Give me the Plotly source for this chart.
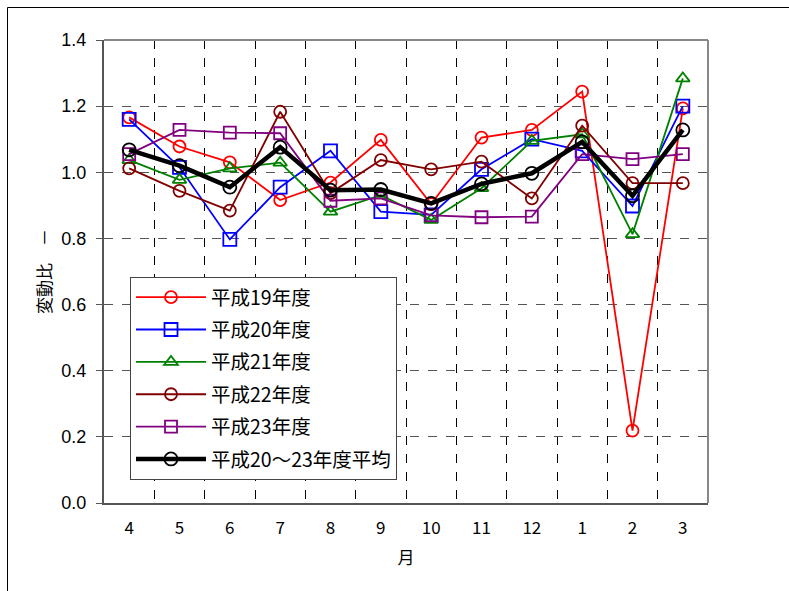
import plotly.graph_objects as go

months = ["4", "5", "6", "7", "8", "9", "10", "11", "12", "1", "2", "3"]

h19 = [1.166, 1.078, 1.030, 0.916, 0.969, 1.098, 0.904, 1.105, 1.128, 1.244, 0.219, 1.193]
h20 = [1.160, 1.015, 0.797, 0.955, 1.065, 0.881, 0.871, 1.009, 1.100, 1.065, 0.898, 1.200]
h21 = [1.037, 0.977, 1.012, 1.029, 0.881, 0.931, 0.856, 0.952, 1.095, 1.115, 0.813, 1.284]
h22 = [1.012, 0.944, 0.884, 1.183, 0.937, 1.037, 1.009, 1.032, 0.921, 1.141, 0.967, 0.967]
h23 = [1.055, 1.128, 1.120, 1.118, 0.914, 0.921, 0.870, 0.864, 0.866, 1.055, 1.040, 1.055]
avg = [1.068, 1.020, 0.955, 1.076, 0.946, 0.948, 0.906, 0.965, 0.997, 1.092, 0.929, 1.128]

series = [
    ("平成19年度", h19, "#FF0000", "circle-open", 1.8, 12),
    ("平成20年度", h20, "#0000FF", "square-open", 1.8, 13),
    ("平成21年度", h21, "#008000", "triangle-up-open", 1.8, 12),
    ("平成22年度", h22, "#800000", "circle-open", 1.8, 12),
    ("平成23年度", h23, "#800080", "square-open", 1.8, 12),
    ("平成20～23年度平均", avg, "#000000", "circle-open", 4.5, 13),
]

JP = "Noto Sans CJK JP"

fig = go.Figure()
for i, (name, vals, color, sym, lw, ms) in enumerate(series):
    fig.add_trace(go.Scatter(
        x=months, y=vals, name=name, mode="lines+markers",
        legendgroup=f"g{i}",
        line=dict(color=color, width=lw),
        marker=dict(symbol=sym, size=ms, color=color, line=dict(width=1.8, color=color)),
    ))

L, R, T, B = 104, 708, 40, 503
W, H = 789, 591

def px_x(p):
    return (p - L) / (R - L)

def px_y(p):
    return (B - p) / (B - T)

fig.update_layout(
    width=W, height=H,
    margin=dict(l=L, r=W - R, t=T, b=H - B),
    paper_bgcolor="white", plot_bgcolor="white",
    font=dict(family=JP, color="black", size=16),
    showlegend=True,
    legend=dict(
        x=px_x(130), y=px_y(277), xanchor="left", yanchor="top",
        bgcolor="white", bordercolor="#444444", borderwidth=1,
        font=dict(family=JP, size=19.5, color="black"),
        tracegroupgap=4, itemwidth=70,
    ),
    xaxis=dict(
        type="category", tickson="boundaries", range=[-0.5, 11.5],
        showgrid=True, gridcolor="black", griddash="dash", gridwidth=1,
        ticks="", showline=True, linecolor="#555555", linewidth=2, mirror=False,
        tickfont=dict(family=JP, size=17, color="black"),
        ticklabelstandoff=9,
        title=dict(text="月", font=dict(family=JP, size=17, color="black"), standoff=14),
        zeroline=False,
    ),
    yaxis=dict(
        range=[0, 1.4], dtick=0.2, tickformat=".1f",
        showgrid=True, gridcolor="#555555", griddash="dash", gridwidth=1,
        ticks="outside", ticklen=6, tickcolor="#555555",
        showline=True, linecolor="#555555", linewidth=2, mirror=False,
        tickfont=dict(family="Liberation Sans", size=18, color="black"),
        ticklabelstandoff=6,
        title=dict(text="変動比　－", font=dict(family=JP, size=17, color="black"), standoff=5),
        zeroline=False,
    ),
)

# top and right frame (lighter gray)
fig.add_shape(type="line", xref="paper", yref="paper", x0=0, x1=1, y0=1, y1=1,
              line=dict(color="#888888", width=2))
fig.add_shape(type="line", xref="paper", yref="paper", x0=1, x1=1, y0=0, y1=1,
              line=dict(color="#888888", width=2))
# outer image border (left and top)
fig.add_shape(type="line", xref="paper", yref="paper", x0=px_x(7.5), x1=px_x(7.5), y0=px_y(7.5), y1=px_y(591),
              line=dict(color="black", width=1))
fig.add_shape(type="line", xref="paper", yref="paper", x0=px_x(7.5), x1=px_x(789), y0=px_y(7.5), y1=px_y(7.5),
              line=dict(color="black", width=1))

fig.write_html("out.html", config={"displayModeBar": False},
               post_script="document.body.style.margin='0';")
